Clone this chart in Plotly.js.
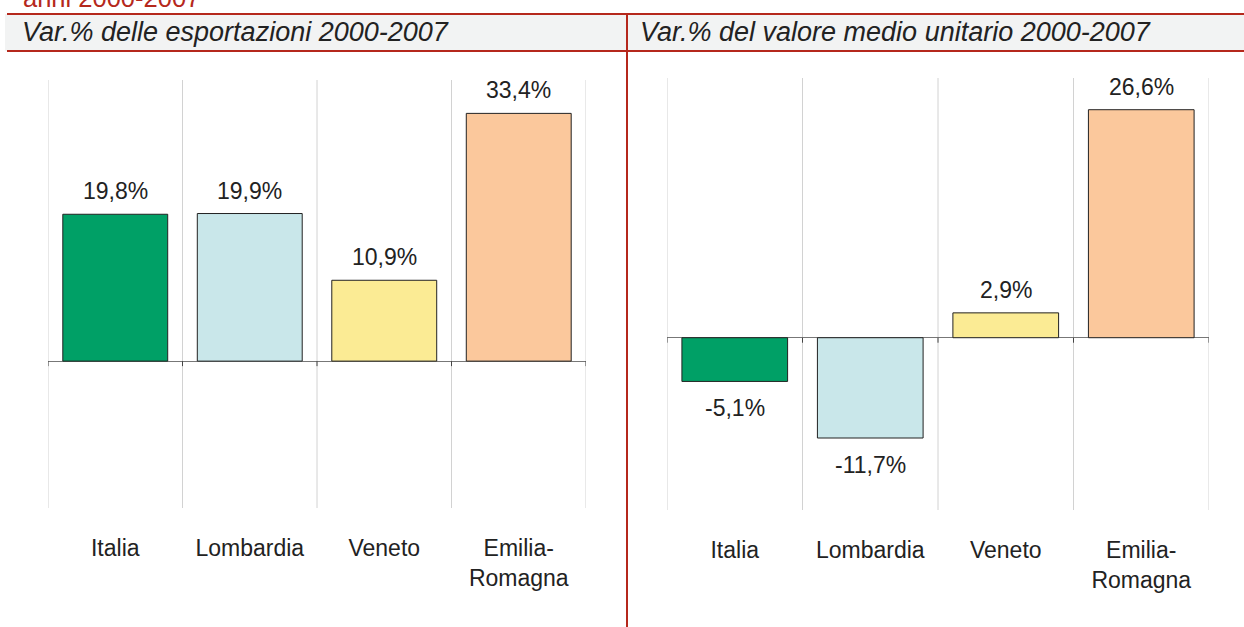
<!DOCTYPE html>
<html>
<head>
<meta charset="utf-8">
<script src="https://cdn.plot.ly/plotly-3.0.1.min.js"></script>
<style>
html,body{margin:0;padding:0;background:#fff;}
#chart{width:1244px;height:627px;}
</style>
</head>
<body>
<div id="chart"></div>
<script>
// ---- data ----
const categories = ["Italia", "Lombardia", "Veneto", "Emilia-<br>Romagna"];
const exportChange = [19.8, 19.9, 10.9, 33.4];       // Var.% delle esportazioni 2000-2007
const unitValueChange = [-5.1, -11.7, 2.9, 26.6];     // Var.% del valore medio unitario 2000-2007
const barColors = ["#00a066", "#c9e7ea", "#fbeb94", "#fbc89c"];
const leftTitle = "Var.% delle esportazioni 2000-2007";
const rightTitle = "Var.% del valore medio unitario 2000-2007";
const topLabel = "anni 2000-2007";

const W = 1244, H = 627;
const px = v => v / W;
const py = v => 1 - v / H;
const FONT = "Arial, 'Liberation Sans', sans-serif";
const RED = "#b5281c";
const fmt = v => v.toFixed(1).replace('.', ',') + '%';
const idx = categories.map((c, i) => i);

function barTrace(vals, xa, ya) {
  return {
    type: 'bar', x: idx, y: vals, xaxis: xa, yaxis: ya,
    width: 0.78,
    marker: { color: barColors, line: { color: '#222', width: 1 } },
    hoverinfo: 'skip', showlegend: false
  };
}

const data = [barTrace(exportChange, 'x', 'y'), barTrace(unitValueChange, 'x2', 'y2')];

const shapes = [];
const annotations = [];

// header band
shapes.push({ type: 'rect', xref: 'paper', yref: 'paper', x0: px(5), x1: 1, y0: py(51), y1: py(14), fillcolor: '#f2f3f3', line: { width: 0 }, layer: 'below' });
shapes.push({ type: 'line', xref: 'paper', yref: 'paper', x0: px(7), x1: 1, y0: py(14), y1: py(14), line: { color: RED, width: 2 } });
shapes.push({ type: 'line', xref: 'paper', yref: 'paper', x0: px(7), x1: 1, y0: py(51), y1: py(51), line: { color: RED, width: 2 } });
shapes.push({ type: 'line', xref: 'paper', yref: 'paper', x0: px(627), x1: px(627), y0: py(14), y1: 0, line: { color: RED, width: 2 } });

// gridlines at category boundaries and tick marks on zero line
[['x', 'y'], ['x2', 'y2']].forEach(([xa, ya]) => {
  for (let i = 0; i <= categories.length; i++) {
    shapes.push({ type: 'line', xref: xa, yref: ya + ' domain', x0: i - 0.5, x1: i - 0.5, y0: 0, y1: 1, line: { color: '#d2d2d2', width: 1 }, layer: 'below' });
    shapes.push({ type: 'line', xref: xa, yref: ya, ysizemode: 'pixel', yanchor: 0, x0: i - 0.5, x1: i - 0.5, y0: 0, y1: -5, line: { color: '#444', width: 1 } });
  }
});

// value labels
function valueLabels(vals, xa, ya) {
  vals.forEach((v, i) => {
    annotations.push({
      xref: xa, yref: ya, x: i, y: v, text: fmt(v), showarrow: false,
      yanchor: v >= 0 ? 'bottom' : 'top', yshift: v >= 0 ? 8 : -12,
      font: { family: FONT, size: 23, color: '#222' }
    });
  });
}
valueLabels(exportChange, 'x', 'y');
valueLabels(unitValueChange, 'x2', 'y2');

// titles
annotations.push({ xref: 'paper', yref: 'paper', x: px(20), y: py(32), xanchor: 'left', yanchor: 'middle', showarrow: false,
  text: '<i>' + leftTitle + '</i>', font: { family: FONT, size: 27, color: '#222' } });
annotations.push({ xref: 'paper', yref: 'paper', x: px(638), y: py(32), xanchor: 'left', yanchor: 'middle', showarrow: false,
  text: '<i>' + rightTitle + '</i>', font: { family: FONT, size: 27, color: '#222' } });
annotations.push({ xref: 'paper', yref: 'paper', x: px(21), y: py(-2), xanchor: 'left', yanchor: 'middle', showarrow: false,
  text: topLabel, font: { family: FONT, size: 25.5, color: RED } });

const xBase = {
  type: 'linear', range: [-0.5, categories.length - 0.5], showgrid: false, zeroline: false, showline: false,
  tickmode: 'array', tickvals: idx, ticktext: categories, ticks: '',
  tickfont: { family: FONT, size: 23, color: '#222' }, ticklabelstandoff: 24, fixedrange: true
};
const yBase = {
  showgrid: false, showticklabels: false, ticks: '', showline: false,
  zeroline: true, zerolinecolor: '#777', zerolinewidth: 1, fixedrange: true
};

const layout = {
  width: W, height: H,
  margin: { l: 0, r: 0, t: 0, b: 0 },
  paper_bgcolor: '#fff', plot_bgcolor: 'rgba(0,0,0,0)',
  font: { family: FONT },
  xaxis: Object.assign({}, xBase, { domain: [px(48), px(586)], anchor: 'y' }),
  yaxis: Object.assign({}, yBase, { domain: [py(508), py(80)], range: [-19.8, 37.9], anchor: 'x' }),
  xaxis2: Object.assign({}, xBase, { domain: [px(667), px(1209)], anchor: 'y2' }),
  yaxis2: Object.assign({}, yBase, { domain: [py(510), py(78)], range: [-20.1, 30.3], anchor: 'x2' }),
  shapes: shapes,
  annotations: annotations,
  bargap: 0.22
};

Plotly.newPlot('chart', data, layout, { displayModeBar: false, staticPlot: true });
</script>
</body>
</html>
